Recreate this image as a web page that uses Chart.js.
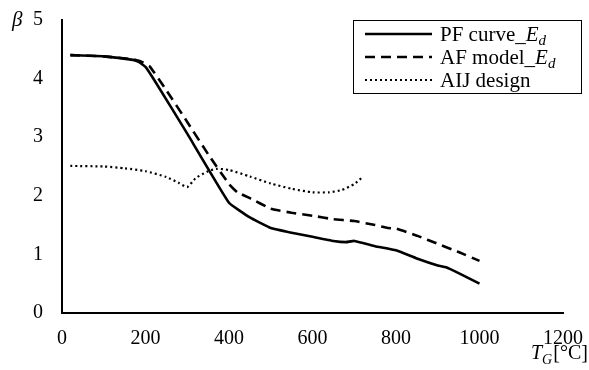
<!DOCTYPE html>
<html>
<head>
<meta charset="utf-8">
<script src="https://cdn.jsdelivr.net/npm/chart.js@4.4.1/dist/chart.umd.min.js"></script>
<style>
  html, body { margin: 0; padding: 0; background: #fff; }
  #wrap { width: 589px; height: 370px; }
</style>
</head>
<body>
<div id="wrap"><canvas id="betaChart" width="589" height="370"></canvas></div>
<script>
// temperature (deg C) and reliability index beta
const pfTemp = [20, 100, 170, 185, 200, 225, 300, 400, 450, 500, 550, 600, 650, 680, 700, 750, 800, 850, 900, 920, 950, 1000];
const pfBeta = [4.40, 4.38, 4.32, 4.28, 4.20, 3.93, 3.06, 1.88, 1.63, 1.45, 1.37, 1.30, 1.23, 1.21, 1.23, 1.14, 1.07, 0.93, 0.81, 0.78, 0.68, 0.50];

const afTemp = [20, 100, 170, 190, 210, 250, 300, 350, 400, 420, 450, 500, 550, 600, 650, 700, 750, 780, 800, 850, 900, 950, 1000];
const afBeta = [4.40, 4.38, 4.33, 4.29, 4.21, 3.80, 3.26, 2.71, 2.20, 2.06, 1.96, 1.78, 1.71, 1.66, 1.60, 1.57, 1.50, 1.45, 1.44, 1.32, 1.18, 1.04, 0.89];

const aijTemp = [20, 100, 150, 200, 250, 280, 300, 320, 350, 370, 400, 450, 500, 550, 600, 640, 670, 700, 720];
const aijBeta = [2.51, 2.50, 2.47, 2.42, 2.32, 2.22, 2.15, 2.30, 2.42, 2.46, 2.44, 2.33, 2.21, 2.12, 2.06, 2.06, 2.10, 2.20, 2.32];

// legend text: plain part + italic E with subscript d
const seriesNames = ['PF curve_', 'AF model_', 'AIJ design'];
const seriesSub = [true, true, false];

const xTicks = [0, 200, 400, 600, 800, 1000, 1200];
const yTicks = [0, 1, 2, 3, 4, 5];

const SERIF = '"Liberation Serif", "Times New Roman", serif';

function toPoints(xs, ys) {
    return xs.map((x, i) => ({ x: x, y: ys[i] }));
}

// custom legend box + axis labels (need italics and subscripts)
const labelsPlugin = {
    id: 'labelsPlugin',
    afterDraw(chart) {
        const ctx = chart.ctx;
        ctx.save();
        ctx.fillStyle = '#000';
        ctx.textBaseline = 'alphabetic';

        // beta label
        ctx.font = 'italic 21px ' + SERIF;
        ctx.textAlign = 'left';
        ctx.fillText('β', 12, 26);

        // x axis title  T_G[°C]
        let x = 531;
        const base = 359;
        ctx.font = 'italic 20px ' + SERIF;
        ctx.fillText('T', x, base);
        x += ctx.measureText('T').width;
        ctx.font = 'italic 14px ' + SERIF;
        ctx.fillText('G', x, base + 5);
        x += ctx.measureText('G').width + 1;
        ctx.font = '20px ' + SERIF;
        ctx.fillText('[°C]', x, base);

        // legend
        const boxL = 353, boxT = 20, boxR = 581, boxB = 93;
        ctx.lineWidth = 1;
        ctx.strokeStyle = '#000';
        ctx.strokeRect(boxL + 0.5, boxT + 0.5, boxR - boxL, boxB - boxT);
        const rows = [34, 57, 80];
        chart.data.datasets.forEach((ds, i) => {
            const y = rows[i];
            ctx.save();
            ctx.lineWidth = ds.borderWidth;
            ctx.setLineDash(ds.borderDash || []);
            ctx.beginPath();
            ctx.moveTo(365, y);
            ctx.lineTo(432, y);
            ctx.stroke();
            ctx.restore();
            let tx = 440;
            const tb = y + 7;
            ctx.font = '21px ' + SERIF;
            ctx.fillText(seriesNames[i], tx, tb);
            if (seriesSub[i]) {
                tx += ctx.measureText(seriesNames[i]).width;
                ctx.font = 'italic 21px ' + SERIF;
                ctx.fillText('E', tx, tb);
                tx += ctx.measureText('E').width;
                ctx.font = 'italic 15px ' + SERIF;
                ctx.fillText('d', tx, tb + 4);
            }
        });
        ctx.restore();
    }
};

const ctx = document.getElementById('betaChart').getContext('2d');
new Chart(ctx, {
    type: 'line',
    data: {
        datasets: [{
            label: 'PF curve_Ed',
            data: toPoints(pfTemp, pfBeta),
            borderColor: '#000',
            borderWidth: 2.6,
            borderDash: [],
            pointRadius: 0,
            tension: 0.1,
            fill: false
        }, {
            label: 'AF model_Ed',
            data: toPoints(afTemp, afBeta),
            borderColor: '#000',
            borderWidth: 2.6,
            borderDash: [10, 6],
            pointRadius: 0,
            tension: 0.1,
            fill: false
        }, {
            label: 'AIJ design',
            data: toPoints(aijTemp, aijBeta),
            borderColor: '#000',
            borderWidth: 2.2,
            borderDash: [2, 3],
            pointRadius: 0,
            tension: 0.2,
            fill: false
        }]
    },
    options: {
        responsive: false,
        animation: false,
        layout: { padding: { left: 0, right: 26, top: 20, bottom: 0 } },
        plugins: {
            legend: { display: false },
            tooltip: { enabled: false }
        },
        scales: {
            x: {
                type: 'linear',
                min: 0,
                max: 1200,
                afterBuildTicks: (scale) => { scale.ticks = xTicks.map(v => ({ value: v })); },
                afterFit: (scale) => {
                    scale.height = 57;
                    scale.paddingLeft = 0;
                    scale.paddingRight = 0;
                },
                grid: { display: false, drawTicks: false },
                border: { display: true, color: '#000', width: 2 },
                ticks: {
                    color: '#000', padding: 14, maxRotation: 0,
                    font: { family: SERIF, size: 20 },
                    callback: (v) => String(v)
                }
            },
            y: {
                min: 0,
                max: 5,
                afterBuildTicks: (scale) => { scale.ticks = yTicks.map(v => ({ value: v })); },
                afterFit: (scale) => {
                    scale.width = 62;
                    scale.paddingTop = 0;
                    scale.paddingBottom = 0;
                },
                grid: { display: false, drawTicks: false },
                border: { display: true, color: '#000', width: 2 },
                ticks: {
                    color: '#000', padding: 19,
                    font: { family: SERIF, size: 20 },
                    callback: (v) => String(v)
                }
            }
        }
    },
    plugins: [labelsPlugin]
});
</script>
</body>
</html>
